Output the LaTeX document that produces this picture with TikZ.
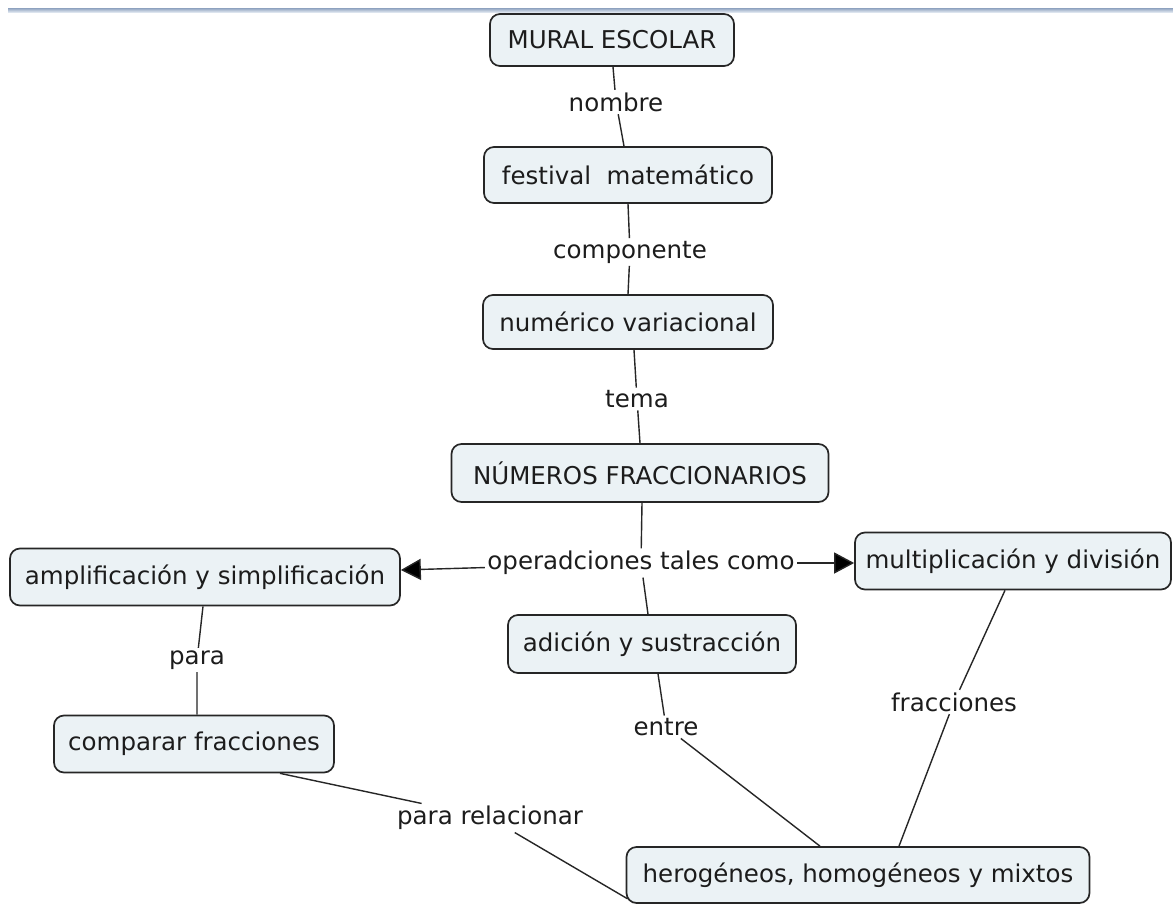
\documentclass[tikz,border=0pt]{standalone}
\usepackage{fontspec}
\setmainfont{DejaVu Sans}
\usetikzlibrary{arrows.meta,calc}
\definecolor{boxfill}{HTML}{EBF2F5}
\definecolor{boxline}{HTML}{262626}
\definecolor{txt}{HTML}{1C1C1C}
\definecolor{bartop}{HTML}{8EA2BF}
\definecolor{barbot}{HTML}{DCE4EE}
\tikzset{
  concept/.style={draw=boxline, fill=boxfill, line width=1.7pt, rounded corners=10pt,
    text=txt, font=\fontsize{24.5}{29}\selectfont, inner sep=0pt, align=center},
  linklabel/.style={fill=white, text=txt, font=\fontsize{24.5}{29}\selectfont, inner sep=2.5pt},
  link/.style={draw=boxline, line width=1.4pt},
  arrowlink/.style={link, -{Triangle[length=20pt,width=21pt,fill=black]}},
}
\begin{document}
\begin{tikzpicture}[x=1pt,y=1pt]
\useasboundingbox (0,0) rectangle (1173,-905);
\fill[white] (0,0) rectangle (1173,-905);
\shade[top color=bartop, bottom color=barbot] (8,-8) rectangle (1173,-12);

% concepts
\node[concept, minimum width=244pt, minimum height=52pt] (mural) at (612,-40) {MURAL ESCOLAR};
\node[concept, minimum width=288pt, minimum height=56pt] (festival) at (628,-175) {festival\ \ matemático};
\node[concept, minimum width=290pt, minimum height=54pt] (numerico) at (628,-322) {numérico variacional};
\node[concept, minimum width=377pt, minimum height=58pt] (numeros) at (640,-473) {NÚMEROS FRACCIONARIOS};
\node[concept, minimum width=390pt, minimum height=57pt] (amp) at (205,-577) {amplificación y simplificación};
\node[concept, minimum width=316pt, minimum height=57pt] (mult) at (1013,-561) {multiplicación y división};
\node[concept, minimum width=288pt, minimum height=58pt] (adicion) at (652,-644) {adición y sustracción};
\node[concept, minimum width=280pt, minimum height=57pt] (comparar) at (194,-744) {comparar fracciones};
\node[concept, minimum width=463pt, minimum height=56pt] (hero) at (858,-875) {herogéneos, homogéneos y mixtos};

% link labels
\node[linklabel] (nombre) at (616,-102) {nombre};
\node[linklabel] (componente) at (630,-252) {componente};
\node[linklabel] (tema) at (637,-399) {tema};
\node[linklabel] (ops) at (641,-563) {operadciones tales como};
\node[linklabel] (para) at (197,-660) {para};
\node[linklabel] (entre) at (666,-727) {entre};
\node[linklabel] (fracciones) at (954,-702) {fracciones};
\node[linklabel] (pararel) at (490,-818) {para relacionar};

% connectors
\draw[link] ([xshift=1pt]mural.south) -- (nombre) -- ([xshift=-4pt]festival.north);
\draw[link] (festival.south) -- (componente) -- (numerico.north);
\draw[link] ([xshift=6pt]numerico.south) -- (tema) -- (numeros.north);
\draw[link] ([xshift=2pt]numeros.south) -- (ops) -- ([xshift=-4pt]adicion.north);
\draw[arrowlink] (ops) -- ([yshift=7pt]amp.east);
\draw[arrowlink] (ops) -- ([yshift=-2pt]mult.west);
\draw[link] ([xshift=-2pt]amp.south) -- (para) -- ([xshift=3pt]comparar.north);
\draw[link] ([xshift=6pt]adicion.south) -- (entre) -- ([xshift=-38pt]hero.north);
\draw[link] ([xshift=-8pt]mult.south) -- (fracciones) -- ([xshift=41pt]hero.north);
\draw[link] ([xshift=86pt]comparar.south) -- (pararel) -- ([xshift=2pt,yshift=5pt]hero.south west);
\end{tikzpicture}
\end{document}
